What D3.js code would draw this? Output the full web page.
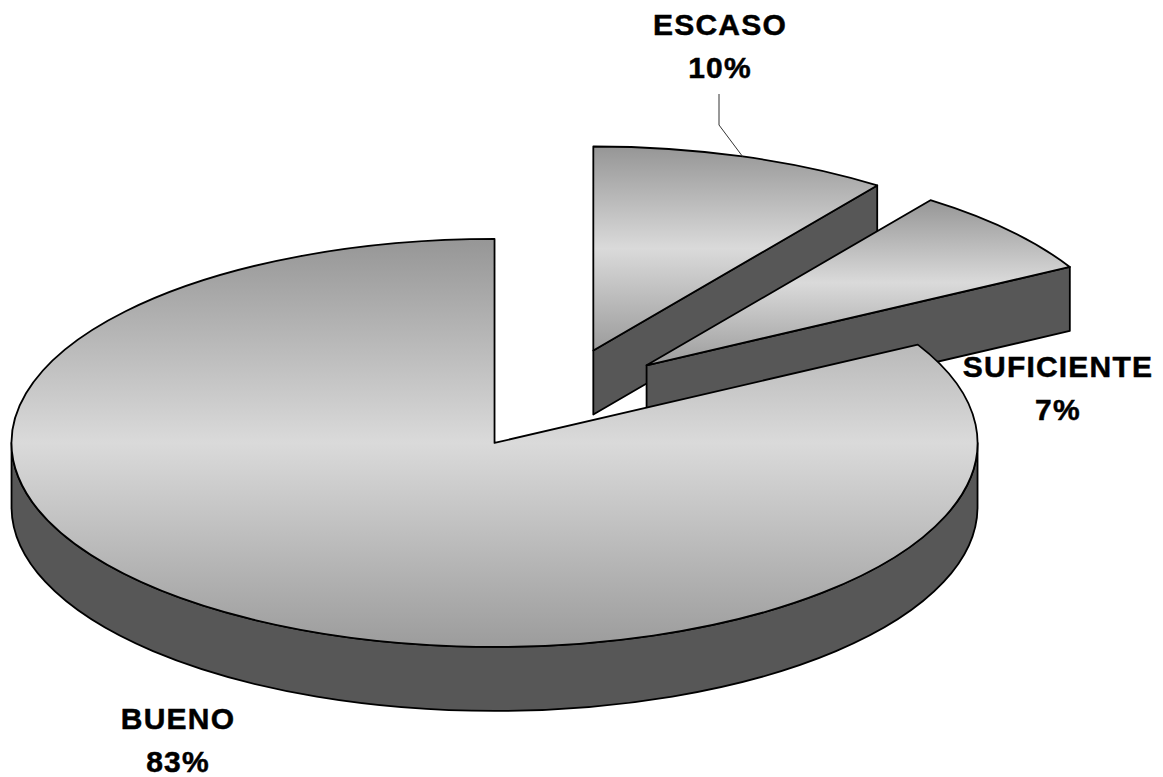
<!DOCTYPE html>
<html>
<head>
<meta charset="utf-8">
<script src="https://cdn.jsdelivr.net/npm/d3@7"></script>
<style>
  html, body { margin: 0; padding: 0; background: #ffffff; }
  svg { display: block; }
  text { font-family: "Liberation Sans", Arial, sans-serif; font-weight: bold; fill: #000; }
</style>
</head>
<body>
<svg id="chart" width="1163" height="777"></svg>
<script>
// ---- data ----
const categories = ["ESCASO", "SUFICIENTE", "BUENO"];
const values = [10, 7, 83];
const percentLabels = ["10%", "7%", "83%"];

// ---- layout constants ----
const cx = 556, cy = 399;       // pie centre before explosion
const rx = 483, ry = 204;       // ellipse radii of top face
const depth = 64;               // thickness
const explode = 0.25;           // explosion fraction of radius
const labelPos = [               // label anchor (centre x, baseline of first line)
  [720, 35], [1058, 377], [178, 729]
];
const lineGap = 43;

const svg = d3.select("#chart");
const defs = svg.append("defs");
const grad = defs.append("linearGradient").attr("id", "topGrad")
  .attr("x1", 0).attr("y1", 0).attr("x2", 0).attr("y2", 1);
grad.append("stop").attr("offset", "0%").attr("stop-color", "#969696");
grad.append("stop").attr("offset", "50%").attr("stop-color", "#dadada");
grad.append("stop").attr("offset", "100%").attr("stop-color", "#9c9c9c");

const pie = d3.pie().sort(null).value(d => d.value)
  .startAngle(0).endAngle(2 * Math.PI);
const data = categories.map((c, i) => ({ name: c, value: values[i], label: percentLabels[i] }));
const arcs = pie(data);

function pt(ox, oy, a) {
  return [ox + rx * Math.sin(a), oy - ry * Math.cos(a)];
}

const sideColor = "#575757";
const strokeW = 1.8;

arcs.forEach(d => {
  const mid = (d.startAngle + d.endAngle) / 2;
  d.ox = cx + explode * rx * Math.sin(mid);
  d.oy = cy - explode * ry * Math.cos(mid);
});

const g = svg.append("g");

function cutFace(sg, ox, oy, a) {
  const p = pt(ox, oy, a);
  const path = d3.path();
  path.moveTo(ox, oy);
  path.lineTo(p[0], p[1]);
  path.lineTo(p[0], p[1] + depth);
  path.lineTo(ox, oy + depth);
  path.closePath();
  sg.append("path").attr("d", path.toString())
    .attr("fill", sideColor).attr("stroke", "#000").attr("stroke-width", strokeW)
    .attr("stroke-linejoin", "round");
}

arcs.forEach(d => {
  const a0 = d.startAngle, a1 = d.endAngle;
  const ox = d.ox, oy = d.oy;
  const sg = g.append("g");

  if (Math.sin(a1) > 1e-6) cutFace(sg, ox, oy, a1);
  if (Math.sin(a0) < -1e-6) cutFace(sg, ox, oy, a0);

  // outer curved side: front half is angles (PI/2, 3PI/2)
  const s = Math.max(a0, Math.PI / 2), e = Math.min(a1, 3 * Math.PI / 2);
  if (e > s) {
    const p1 = pt(ox, oy, s), p2 = pt(ox, oy, e);
    const large = (e - s) > Math.PI ? 1 : 0;
    const dstr = `M${p1[0]},${p1[1]} A${rx},${ry} 0 ${large} 1 ${p2[0]},${p2[1]}` +
      ` L${p2[0]},${p2[1] + depth} A${rx},${ry} 0 ${large} 0 ${p1[0]},${p1[1] + depth} Z`;
    sg.append("path").attr("d", dstr)
      .attr("fill", sideColor).attr("stroke", "#000").attr("stroke-width", strokeW)
      .attr("stroke-linejoin", "round");
  }
  // top face
  const q0 = pt(ox, oy, a0), q1 = pt(ox, oy, a1);
  const large = (a1 - a0) > Math.PI ? 1 : 0;
  const top = `M${ox},${oy} L${q0[0]},${q0[1]} A${rx},${ry} 0 ${large} 1 ${q1[0]},${q1[1]} Z`;
  sg.append("path").attr("d", top)
    .attr("fill", "url(#topGrad)").attr("stroke", "#000").attr("stroke-width", strokeW)
    .attr("stroke-linejoin", "round");
});

// labels
arcs.forEach((d, i) => {
  const [lx, ly] = labelPos[i];
  const t = svg.append("text").attr("text-anchor", "middle").attr("font-size", 30)
    .attr("letter-spacing", "1.2px")
    .attr("stroke", "#000").attr("stroke-width", 0.5);
  t.append("tspan").attr("x", lx).attr("y", ly).text(d.data.name);
  t.append("tspan").attr("x", lx).attr("y", ly + lineGap).text(d.data.label);
});

// leader line for ESCASO
{
  const d = arcs[0];
  const mid = (d.startAngle + d.endAngle) / 2;
  const p = pt(d.ox, d.oy, mid);
  const lx = labelPos[0][0] - 1;
  svg.append("path")
    .attr("d", `M${lx},94 L${lx},125 L${p[0]},${p[1]}`)
    .attr("fill", "none").attr("stroke", "#333").attr("stroke-width", 1);
}
</script>
</body>
</html>
